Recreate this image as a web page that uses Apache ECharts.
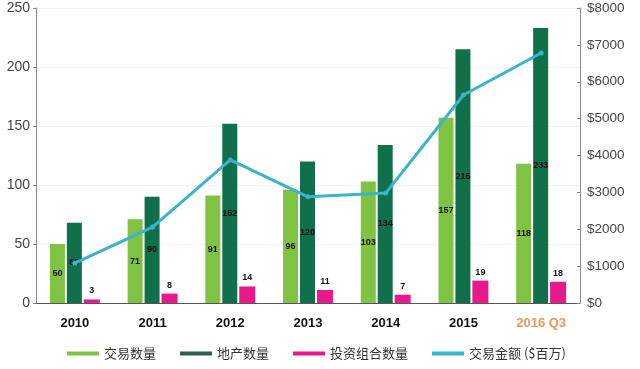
<!DOCTYPE html>
<html><head><meta charset="utf-8">
<script src="https://cdn.jsdelivr.net/npm/echarts@6/dist/echarts.min.js"></script>
<style>html,body{margin:0;padding:0;background:#fff}#c{width:640px;height:369px}</style>
</head><body><div id="c"></div>
<script>
var categories = ['2010','2011','2012','2013','2014','2015','2016 Q3'];
var dealCount = [50, 71, 91, 96, 103, 157, 118];
var propertyCount = [68, 90, 152, 120, 134, 215, 233];
var portfolioCount = [3, 8, 14, 11, 7, 19, 18];
var dealValue = [1080, 2060, 3880, 2880, 2980, 5640, 6780];
var leftTicks = [0, 50, 100, 150, 200, 250];
var rightTicks = [0, 1000, 2000, 3000, 4000, 5000, 6000, 7000, 8000];

var chart = echarts.init(document.getElementById('c'), null, {renderer:'canvas'});
var font = '"Liberation Sans", Arial, sans-serif';
var barLabel = {show:true, position:'inside', color:'#111', fontSize:9, fontWeight:'bold', fontFamily:font};
chart.setOption({
  animation:false,
  grid:{left:36, right:60, top:8, bottom:66},
  legend:{
    bottom:4, left:62, itemWidth:32, itemHeight:4, itemGap:24, icon:'rect',
    textStyle:{fontSize:13, color:'#333', fontFamily:'"Noto Sans CJK SC", sans-serif'},
    data:[
      {name:'交易数量', itemStyle:{color:'#80c241'}},
      {name:'地产数量', itemStyle:{color:'#2f5e4d'}},
      {name:'投资组合数量', itemStyle:{color:'#e8198b'}},
      {name:'交易金额 ($百万)', itemStyle:{color:'#3ab3cb'}}
    ]
  },
  xAxis:{
    type:'category', data:categories,
    axisLine:{lineStyle:{color:'#555', width:1}},
    axisTick:{show:false},
    axisLabel:{margin:14, fontSize:13, fontWeight:'bold', fontFamily:font,
      color:function(v){return v==='2016 Q3'?'#e8985a':'#111';}}
  },
  yAxis:[
    {type:'value', min:0, max:250, interval:50,
     axisLine:{show:true, lineStyle:{color:'#888'}},
     axisTick:{show:true, length:3, lineStyle:{color:'#888'}},
     splitLine:{show:true, lineStyle:{color:'#f3f3f3'}},
     axisLabel:{fontSize:14, color:'#444', fontFamily:font, margin:6}},
    {type:'value', min:0, max:8000, interval:1000,
     axisLine:{show:true, lineStyle:{color:'#888'}},
     axisTick:{show:true, length:3, inside:true, lineStyle:{color:'#888'}},
     splitLine:{show:false},
     axisLabel:{fontSize:13.5, color:'#444', fontFamily:font, margin:7,
       formatter:function(v){return '$'+v;}}}
  ],
  series:[
    {name:'交易数量', type:'bar', data:dealCount, barWidth:15, barGap:'13%',
     itemStyle:{color:'#80c241'}, label:barLabel},
    {name:'地产数量', type:'bar', data:propertyCount, barWidth:15, barGap:'13%',
     itemStyle:{color:'#10704c'}, label:barLabel},
    {name:'投资组合数量', type:'bar', data:portfolioCount, barWidth:16, barGap:'13%',
     itemStyle:{color:'#e8198b'},
     label:{show:true, position:'top', color:'#111', fontSize:9, fontWeight:'bold', fontFamily:font, distance:4}},
    {name:'交易金额 ($百万)', type:'line', yAxisIndex:1, data:dealValue, z:10,
     symbol:'circle', symbolSize:5,
     lineStyle:{color:'#3ab3cb', width:3}, itemStyle:{color:'#3ab3cb'}}
  ]
});
</script></body></html>
